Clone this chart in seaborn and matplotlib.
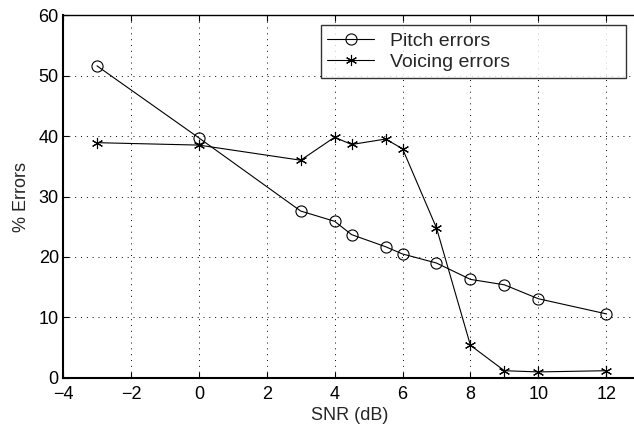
import numpy as np
import pandas as pd
import matplotlib
matplotlib.use("Agg")
import matplotlib.pyplot as plt
import seaborn as sns

snr = [-3, 0, 3, 4, 4.5, 5.5, 6, 7, 8, 9, 10, 12]
pitch_errors = [51.6, 39.7, 27.6, 25.9, 23.7, 21.7, 20.5, 19.0, 16.3, 15.4, 13.1, 10.6]
voicing_errors = [38.9, 38.5, 36.0, 39.8, 38.6, 39.5, 37.9, 24.8, 5.4, 1.2, 1.0, 1.2]

df = pd.DataFrame({"snr": snr, "Pitch errors": pitch_errors, "Voicing errors": voicing_errors})

sns.set_style("white")
plt.rcParams["font.family"] = ["Liberation Sans", "DejaVu Sans"]

fig = plt.figure(figsize=(6.34, 4.30), dpi=100)
ax = fig.add_axes([0.0994, 0.121, 0.905, 0.844])

sns.lineplot(data=df, x="snr", y="Pitch errors", ax=ax, color="black", lw=0.8,
             marker="o", markersize=8, markerfacecolor="none", markeredgecolor="black",
             markeredgewidth=0.8, label="Pitch errors")
sns.lineplot(data=df, x="snr", y="Voicing errors", ax=ax, color="black", lw=0.8,
             marker=(6, 2, 0), markersize=8, markeredgecolor="black",
             markeredgewidth=0.8, label="Voicing errors")

ax.set_xlim(-4, 12.9)
ax.set_ylim(0, 60)
ax.set_xticks(range(-4, 13, 2))
ax.set_yticks(range(0, 61, 10))
ax.set_xticklabels(["\u22124", "\u22122", "0", "2", "4", "6", "8", "10", "12"])
ax.grid(True, color="black", linestyle=(0, (1, 5)), linewidth=0.7)
ax.tick_params(labelsize=13, direction="in", length=4, colors="black")
ax.tick_params(axis="x", pad=6)
ax.tick_params(axis="y", pad=3)
ax.tick_params(axis="both", which="both", bottom=True, left=True, top=True)
ax.set_xlabel("SNR (dB)", fontsize=13, labelpad=3)
ax.set_ylabel("% Errors", fontsize=13, labelpad=6)

for s in ["left", "bottom", "top"]:
    ax.spines[s].set_color("black")
    ax.spines[s].set_linewidth(1.0)
ax.spines["left"].set_linewidth(1.5)
ax.spines["bottom"].set_linewidth(1.5)
ax.spines["right"].set_visible(False)

leg = ax.legend(loc="upper left", bbox_to_anchor=(0.449, 0.0, 0.533, 0.972), mode="expand",
                fontsize=14, frameon=True, fancybox=False, edgecolor="black", borderpad=0.35,
                labelspacing=0.2, handlelength=2.4, handletextpad=0.8, borderaxespad=0)
leg.get_frame().set_linewidth(1.0)

fig.savefig("out.png", dpi=100)
